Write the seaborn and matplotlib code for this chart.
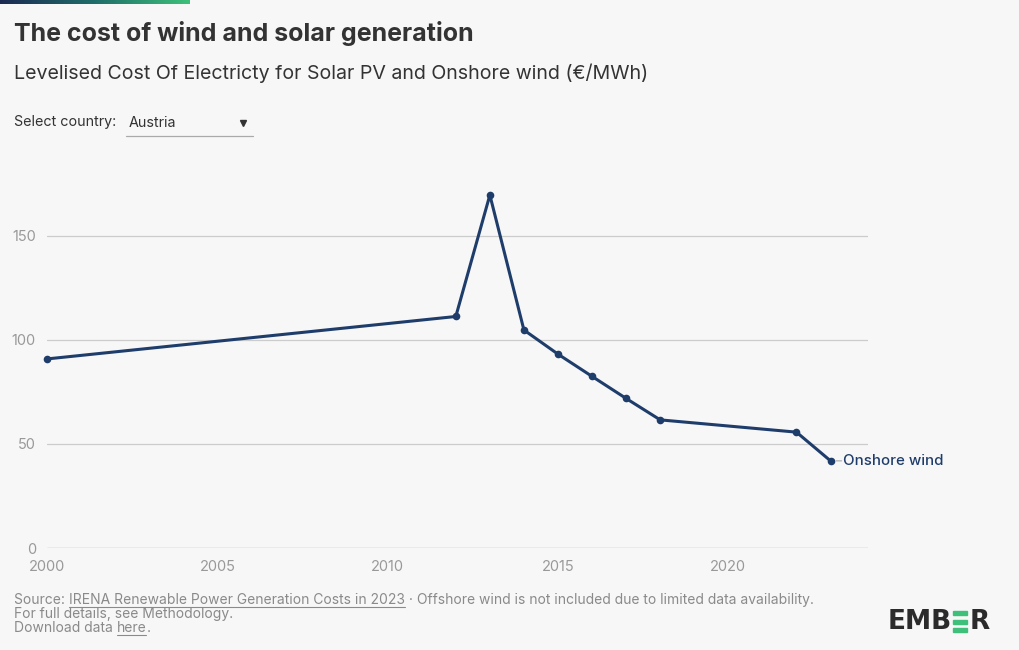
import numpy as np
import pandas as pd
import matplotlib
matplotlib.use("Agg")
import matplotlib.pyplot as plt
import seaborn as sns
from matplotlib.colors import LinearSegmentedColormap

years = [2000, 2012, 2013, 2014, 2015, 2016, 2017, 2018, 2022, 2023]
onshore_wind = [90.9, 111.3, 169.7, 104.8, 93.2, 82.5, 71.9, 61.6, 55.7, 41.9]
series_name = "Onshore wind"
y_ticks = [0, 50, 100, 150]
x_ticks = [2000, 2005, 2010, 2015, 2020]

df = pd.DataFrame({"year": years, "lcoe": onshore_wind, "series": series_name})

sns.set_theme(style="white")
plt.rcParams["font.family"] = ["Inter", "DejaVu Sans"]

W, H = 1020, 650
bg = "#f7f7f7"
line_col = "#1f3d6b"
fig = plt.figure(figsize=(W / 100, H / 100), dpi=100, facecolor=bg)
renderer = fig.canvas.get_renderer()


def fy(y):
    return 1 - y / H


def chain(x, y, parts, **kw):
    """Place text pieces one after another; underline those flagged."""
    for txt, und in parts:
        t = fig.text(x / W, fy(y), txt, va="center", ha="left", **kw)
        bb = t.get_window_extent(renderer)
        if und:
            fig.add_artist(plt.Line2D([x / W, (x + bb.width) / W], [fy(y + 7), fy(y + 7)],
                                      color=kw.get("color"), linewidth=0.8))
        x += bb.width
    return x


# axes placement in pixels
left, right, top, bottom = 47, 868, 184, 548
ax = fig.add_axes([left / W, 1 - bottom / H, (right - left) / W, (bottom - top) / H])
ax.set_facecolor(bg)

sns.lineplot(data=df, x="year", y="lcoe", ax=ax, color=line_col, linewidth=2.2,
             marker="o", markersize=5.5, markeredgewidth=0, legend=False, clip_on=False)

ax.set_xlim(2000, 2024.1)
ax.set_ylim(0, 175)
ax.set_yticks(y_ticks)
ax.set_xticks(x_ticks)
ax.set_xlabel("")
ax.set_ylabel("")
for s in ["top", "right", "left", "bottom"]:
    ax.spines[s].set_visible(False)
ax.grid(axis="y", color="#cccccc", linewidth=0.9)
ax.grid(axis="x", visible=False)
ax.axhline(0, color="#bbbbbb", linewidth=0.9, zorder=0.5)
ax.tick_params(axis="y", length=0, pad=8, labelsize=10.5, labelcolor="#999999")
ax.tick_params(axis="x", length=4, width=0.8, color="#cccccc", pad=4.5, labelsize=10.5,
               labelcolor="#999999", direction="out")

# series label with small connector
ax.annotate(series_name, xy=(years[-1], onshore_wind[-1]), xytext=(9, 0),
            textcoords="offset points", va="center", ha="left",
            fontsize=10.8, color=line_col, fontweight="medium")
ax.annotate("", xy=(years[-1], onshore_wind[-1]), xytext=(8, 0), textcoords="offset points",
            arrowprops=dict(arrowstyle="-", color="#aaaaaa", lw=0.8, shrinkA=0, shrinkB=4))

# gradient bar at top
gax = fig.add_axes([0, 1 - 4 / H, 190 / W, 4 / H])
cmap = LinearSegmentedColormap.from_list("g", ["#1c2a52", "#1f6e6a", "#3ec07a"])
gax.imshow(np.linspace(0, 1, 256)[None, :], aspect="auto", cmap=cmap)
gax.axis("off")

# titles
fig.text(14 / W, fy(34), "The cost of wind and solar generation", fontsize=18,
         fontweight="bold", color="#333333", va="center", ha="left")
fig.text(14 / W, fy(73), "Levelised Cost Of Electricty for Solar PV and Onshore wind (€/MWh)",
         fontsize=14.1, color="#333333", va="center", ha="left")

# dropdown
fig.text(14 / W, fy(122), "Select country:", fontsize=10.3, color="#333333", va="center")
fig.text(129 / W, fy(123), "Austria", fontsize=10.3, color="#333333", va="center")
fig.add_artist(plt.Line2D([243 / W], [fy(123)], marker="v", markersize=5, color="#333333",
                          linestyle="none"))
fig.add_artist(plt.Line2D([126 / W, 253 / W], [fy(136), fy(136)], color="#aaaaaa", linewidth=0.9))

# footer
fc = "#8a8a8a"
fkw = dict(fontsize=10, color=fc)
chain(14, 600, [("Source: ", False), ("IRENA Renewable Power Generation Costs in 2023", True),
                (" · Offshore wind is not included due to limited data availability.", False)], **fkw)
chain(14, 614, [("For full details, see Methodology.", False)], **fkw)
chain(14, 628, [("Download data ", False), ("here", True), (".", False)], **fkw)

# EMBER logo
lkw = dict(fontsize=19, fontweight="bold", color="#2b2b2b", family=["DejaVu Sans"])
t = fig.text(888 / W, fy(622), "EMB", va="center", ha="left", **lkw)
x_end = 888 + t.get_window_extent(renderer).width + 1
for yy in [613, 621.5, 630]:
    fig.add_artist(plt.Rectangle((x_end / W, fy(yy + 2)), 14 / W, 4 / H,
                                 color="#3ec07a", transform=fig.transFigure))
fig.text((x_end + 16) / W, fy(622), "R", va="center", ha="left", **lkw)

fig.savefig("out.png", dpi=100, facecolor=bg)
